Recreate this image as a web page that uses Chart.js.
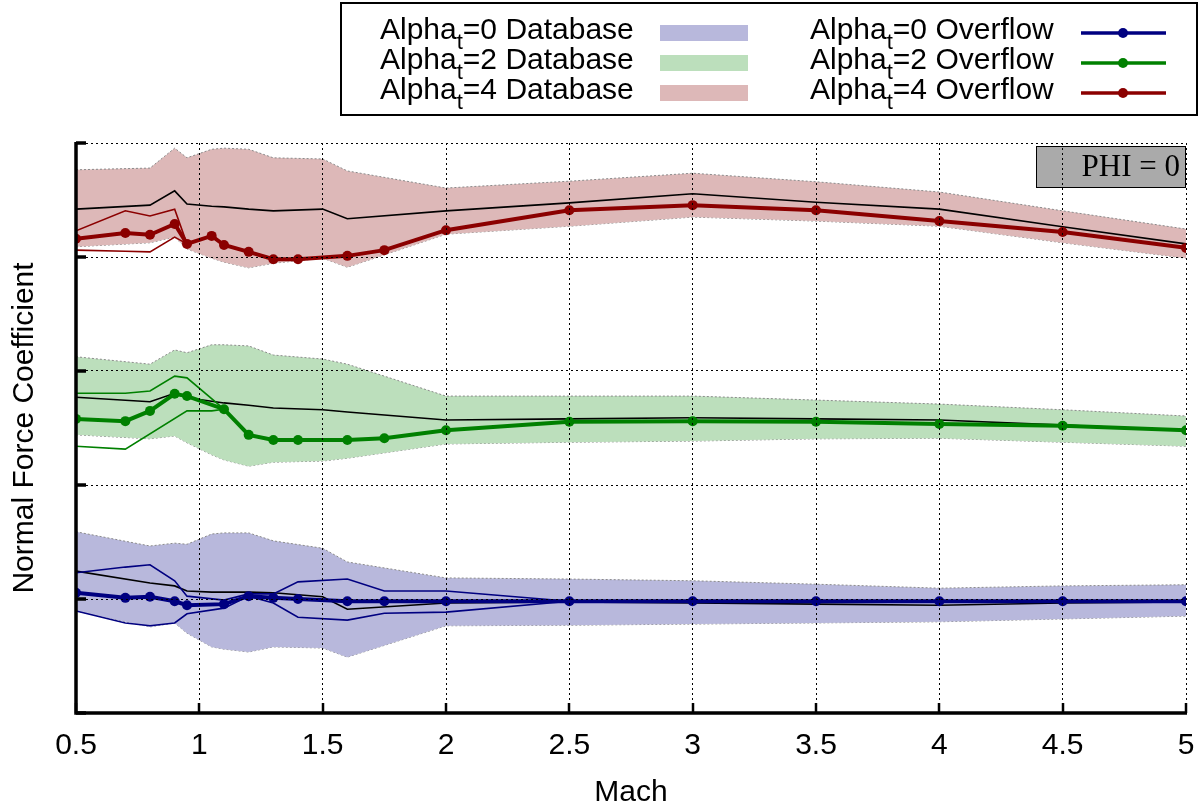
<!DOCTYPE html>
<html>
<head>
<meta charset="utf-8">
<title>Normal Force Coefficient vs Mach</title>
<script src="https://cdn.jsdelivr.net/npm/chart.js@4.4.0/dist/chart.umd.min.js"></script>
<style>
  html, body { margin: 0; padding: 0; background: #fff; }
</style>
</head>
<body>
<canvas id="chart" width="1202" height="805"></canvas>
<script>
// Mach stations
const machDb = [0.5, 0.8, 0.9, 0.95, 1.05, 1.1, 1.2, 1.3, 1.5, 1.6, 2, 2.5, 3, 3.5, 4, 4.5, 5];
const machOfRed = [0.5, 0.7, 0.8, 0.9, 0.95, 1.05, 1.1, 1.2, 1.3, 1.4, 1.6, 1.75, 2, 2.5, 3, 3.5, 4, 4.5, 5];
const machOf = [0.5, 0.7, 0.8, 0.9, 0.95, 1.1, 1.2, 1.3, 1.4, 1.6, 1.75, 2, 2.5, 3, 3.5, 4, 4.5, 5];

// Alpha_t = 0
const a0Overflow = [0.011, 0.002, 0.004, -0.004, -0.011, -0.009, 0.005, 0.002, 0, -0.004, -0.004, -0.004, -0.004, -0.004, -0.004, -0.004, -0.004, -0.004];
const a0Mean = [0.049, 0.028, 0.023, 0.014, 0.012, 0.012, 0.012, 0.011, 0.004, -0.018, -0.007, -0.005, -0.007, -0.009, -0.011, -0.007, -0.005];
const a0Upper = [0.118, 0.093, 0.098, 0.096, 0.114, 0.116, 0.116, 0.102, 0.089, 0.065, 0.037, 0.035, 0.032, 0.026, 0.019, 0.023, 0.025];
const a0Lower = [-0.021, -0.049, -0.042, -0.060, -0.084, -0.088, -0.093, -0.084, -0.086, -0.102, -0.047, -0.046, -0.044, -0.042, -0.040, -0.035, -0.030];
const a0ThinMach = [0.5, 0.7, 0.8, 0.9, 0.95, 1.1, 1.2, 1.3, 1.4, 1.6, 1.75, 2, 2.5];
const a0ThinHi = [0.046, 0.056, 0.060, 0.032, 0.005, -0.002, 0.009, 0.009, 0.030, 0.035, 0.014, 0.014, -0.004];
const a0ThinLo = [-0.021, -0.042, -0.047, -0.042, -0.026, -0.016, 0.005, -0.007, -0.032, -0.037, -0.025, -0.023, -0.004];

// Alpha_t = 2
const a2Overflow = [0.316, 0.312, 0.330, 0.360, 0.356, 0.333, 0.288, 0.279, 0.279, 0.279, 0.282, 0.296, 0.311, 0.312, 0.311, 0.307, 0.304, 0.296];
const a2Mean = [0.354, 0.346, 0.361, 0.353, 0.347, 0.344, 0.340, 0.335, 0.332, 0.328, 0.314, 0.316, 0.318, 0.316, 0.314, 0.305, 0.296];
const a2Upper = [0.425, 0.412, 0.437, 0.432, 0.446, 0.446, 0.444, 0.428, 0.421, 0.412, 0.356, 0.356, 0.356, 0.349, 0.342, 0.332, 0.321];
const a2Lower = [0.288, 0.281, 0.286, 0.274, 0.253, 0.244, 0.233, 0.240, 0.242, 0.247, 0.272, 0.275, 0.277, 0.281, 0.282, 0.275, 0.268];
const a2ThinHiMach = [0.5, 0.7, 0.8, 0.9, 0.95, 1.1];
const a2ThinHi = [0.361, 0.361, 0.365, 0.391, 0.388, 0.333];
const a2ThinLoMach = [0.5, 0.7, 0.95, 1.05, 1.1];
const a2ThinLo = [0.268, 0.263, 0.330, 0.330, 0.333];

// Alpha_t = 4
const a4Overflow = [0.632, 0.642, 0.639, 0.658, 0.623, 0.637, 0.621, 0.609, 0.596, 0.596, 0.602, 0.612, 0.647, 0.682, 0.691, 0.682, 0.663, 0.644, 0.616];
const a4Mean = [0.684, 0.691, 0.716, 0.693, 0.689, 0.688, 0.684, 0.681, 0.684, 0.667, 0.681, 0.695, 0.711, 0.696, 0.684, 0.653, 0.623];
const a4Upper = [0.753, 0.756, 0.791, 0.774, 0.789, 0.791, 0.789, 0.774, 0.772, 0.751, 0.721, 0.733, 0.747, 0.732, 0.714, 0.681, 0.649];
const a4Lower = [0.618, 0.625, 0.635, 0.614, 0.598, 0.591, 0.581, 0.589, 0.598, 0.582, 0.640, 0.654, 0.670, 0.663, 0.654, 0.625, 0.598];
const a4ThinMach = [0.5, 0.7, 0.8, 0.9, 0.95];
const a4ThinHi = [0.646, 0.681, 0.672, 0.684, 0.623];
const a4ThinLo = [0.612, 0.610, 0.609, 0.635, 0.623];

const alphas = ['0', '2', '4'];
const lineColors = ['#000080', '#008000', '#8b0000'];
const bandColors = ['#b8b8dc', '#bcdfbc', '#ddb8b8'];

const FONT = '"Liberation Sans", Arial, Helvetica, sans-serif';

const pts = (xs, ys) => xs.map((x, i) => ({ x: x, y: ys[i] }));

function overflowSet(xs, ys, color) {
  return { data: pts(xs, ys), borderColor: color, backgroundColor: color, borderWidth: 4,
    pointRadius: 5, pointHoverRadius: 5, pointBorderWidth: 0, pointBackgroundColor: color, fill: false };
}
function thinSet(xs, ys, color) {
  return { data: pts(xs, ys), borderColor: color, borderWidth: 1.6, pointRadius: 0, fill: false };
}
function meanSet(ys) {
  return { data: pts(machDb, ys), borderColor: '#000', borderWidth: 1.6, pointRadius: 0, fill: false };
}
function bandSet(ys, color, fillTo) {
  return { data: pts(machDb, ys), borderColor: '#8a8a8a', borderWidth: 1, borderDash: [2, 2],
    pointRadius: 0, backgroundColor: color, fill: fillTo };
}

// first dataset is drawn on top
const datasets = [
  overflowSet(machOf, a0Overflow, lineColors[0]),
  overflowSet(machOf, a2Overflow, lineColors[1]),
  overflowSet(machOfRed, a4Overflow, lineColors[2]),
  thinSet(a0ThinMach, a0ThinHi, lineColors[0]),
  thinSet(a0ThinMach, a0ThinLo, lineColors[0]),
  thinSet(a2ThinHiMach, a2ThinHi, lineColors[1]),
  thinSet(a2ThinLoMach, a2ThinLo, lineColors[1]),
  thinSet(a4ThinMach, a4ThinHi, lineColors[2]),
  thinSet(a4ThinMach, a4ThinLo, lineColors[2]),
  meanSet(a0Mean),
  meanSet(a2Mean),
  meanSet(a4Mean),
  bandSet(a0Upper, bandColors[0], '+1'),
  bandSet(a0Lower, bandColors[0], false),
  bandSet(a2Upper, bandColors[1], '+1'),
  bandSet(a2Lower, bandColors[1], false),
  bandSet(a4Upper, bandColors[2], '+1'),
  bandSet(a4Lower, bandColors[2], false)
];

// gnuplot style axes with inward ticks
const framePlugin = {
  id: 'frame',
  afterDatasetsDraw(chart) {
    const ctx = chart.ctx;
    ctx.save();
    ctx.fillStyle = '#aaaaaa';
    ctx.fillRect(1036, 146, 150, 42);
    ctx.strokeStyle = '#000';
    ctx.lineWidth = 1;
    ctx.strokeRect(1036.5, 146.5, 149, 41);
    ctx.fillStyle = '#000';
    ctx.font = '31px "Liberation Serif", "Times New Roman", serif';
    ctx.textAlign = 'right';
    ctx.textBaseline = 'middle';
    ctx.fillText('PHI = 0', 1180, 168);
    ctx.restore();
  },
  afterDraw(chart) {
    const { ctx, chartArea: a, scales } = chart;
    ctx.save();
    ctx.strokeStyle = '#000';
    ctx.lineCap = 'butt';
    ctx.lineWidth = 2.5;
    scales.x.ticks.forEach(t => {
      const px = Math.round(scales.x.getPixelForValue(t.value));
      ctx.beginPath();
      ctx.moveTo(px, a.bottom);
      ctx.lineTo(px, a.bottom - 10);
      ctx.stroke();
    });
    ctx.lineWidth = 3.5;
    scales.y.ticks.forEach(t => {
      const py = Math.round(scales.y.getPixelForValue(t.value));
      ctx.beginPath();
      ctx.moveTo(a.left, py);
      ctx.lineTo(a.left + 10, py);
      ctx.stroke();
    });
    ctx.lineWidth = 3.5;
    ctx.beginPath();
    ctx.moveTo(a.left, a.top - 1);
    ctx.lineTo(a.left, a.bottom);
    ctx.lineTo(a.right + 1, a.bottom);
    ctx.stroke();
    ctx.restore();
  }
};

// key box drawn by hand so the subscript t can be shown
const keyPlugin = {
  id: 'key',
  afterDraw(chart) {
    const ctx = chart.ctx;
    ctx.save();
    ctx.fillStyle = '#fff';
    ctx.fillRect(341, 3, 856, 112);
    ctx.strokeStyle = '#000';
    ctx.lineWidth = 2;
    ctx.strokeRect(341, 3, 856, 112);

    const writeLabel = (x, y, a, rest) => {
      ctx.fillStyle = '#000';
      ctx.textAlign = 'left';
      ctx.textBaseline = 'alphabetic';
      ctx.font = '30px ' + FONT;
      ctx.fillText('Alpha', x, y);
      let w = ctx.measureText('Alpha').width;
      ctx.font = '22px ' + FONT;
      ctx.fillText('t', x + w, y + 10);
      w += ctx.measureText('t').width;
      ctx.font = '30px ' + FONT;
      ctx.fillText('=' + a + ' ' + rest, x + w, y);
    };

    alphas.forEach((a, i) => {
      const base = 39 + i * 30;
      const mid = base - 6;
      writeLabel(380, base, a, 'Database');
      ctx.fillStyle = bandColors[i];
      ctx.fillRect(660, mid - 8, 88, 16);

      writeLabel(810, base, a, 'Overflow');
      ctx.strokeStyle = lineColors[i];
      ctx.lineWidth = 3.5;
      ctx.beginPath();
      ctx.moveTo(1081, mid);
      ctx.lineTo(1166, mid);
      ctx.stroke();
      ctx.fillStyle = lineColors[i];
      ctx.beginPath();
      ctx.arc(1123, mid, 5, 0, Math.PI * 2);
      ctx.fill();
    });
    ctx.restore();
  }
};

new Chart(document.getElementById('chart'), {
  type: 'line',
  data: { datasets: datasets },
  options: {
    responsive: false,
    animation: false,
    layout: { padding: { top: 143, right: 16, bottom: 0, left: 0 } },
    elements: { line: { tension: 0 } },
    plugins: {
      legend: { display: false },
      tooltip: { enabled: false },
      filler: { propagate: false }
    },
    scales: {
      x: {
        type: 'linear',
        min: 0.5,
        max: 5,
        ticks: { stepSize: 0.5, color: '#000', padding: 15, font: { family: FONT, size: 30 },
          callback: (v) => String(v) },
        grid: { color: '#000', lineWidth: 1, drawTicks: false, z: 1 },
        border: { display: false, dash: [2, 3] },
        title: { display: true, text: 'Mach', color: '#000', padding: { top: 0, bottom: 0 },
          font: { family: FONT, size: 30, lineHeight: 0.8 } },
        afterFit(scale) {
          scale.height = 92;
          scale.paddingLeft = 0;
          scale.paddingRight = 0;
        }
      },
      y: {
        min: -0.2,
        max: 0.8,
        ticks: { stepSize: 0.2, display: false },
        grid: { color: '#000', lineWidth: 1, drawTicks: false, z: 1 },
        border: { display: false, dash: [2, 3] },
        title: { display: true, text: 'Normal Force Coefficient', color: '#000', padding: { top: 7, bottom: 0 },
          font: { family: FONT, size: 30 } },
        afterFit(scale) { scale.width = 76; }
      }
    }
  },
  plugins: [framePlugin, keyPlugin]
});
</script>
</body>
</html>
